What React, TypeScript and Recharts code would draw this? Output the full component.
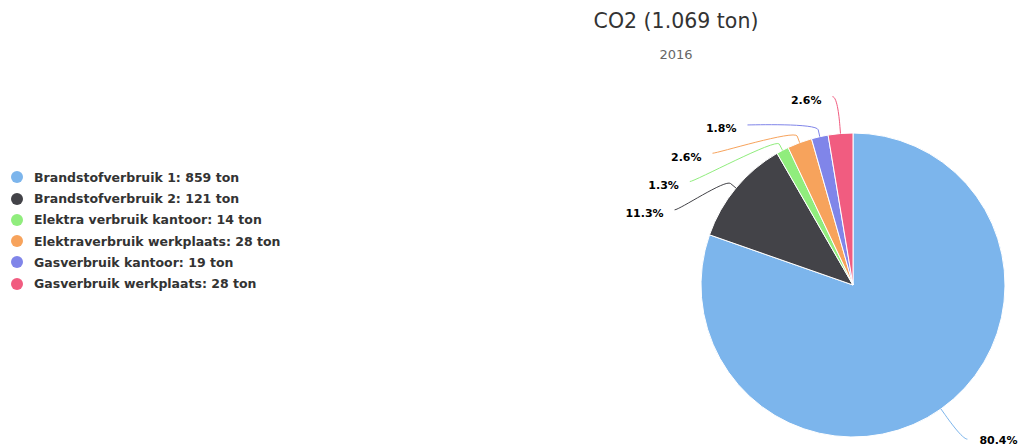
import React from 'react';
import { PieChart, Pie, Cell, Legend } from 'recharts';

const categories = [
  'Brandstofverbruik 1',
  'Brandstofverbruik 2',
  'Elektra verbruik kantoor',
  'Elektraverbruik werkplaats',
  'Gasverbruik kantoor',
  'Gasverbruik werkplaats',
];
const values = [859, 121, 14, 28, 19, 28];
const colors = ['#7cb5ec', '#434348', '#90ed7d', '#f7a35c', '#8085e9', '#f15c80'];
const unit = 'ton';
const titleText = 'CO2 (1.069 ton)';
const subtitleText = '2016';

const data = categories.map((name, i) => ({ name, value: values[i] }));

const W = 1019;
const H = 448;
const CX = 853;
const CY = 285;
const R = 152;
const START = 90;
const END = -270;
const LABEL_R = 189;
const PAD = 5;
const CONN_OFF = 7;
const MIN_GAP = 28.3;

type LabelPos = { x: number; y: number; left: boolean };

function layoutLabels(cx: number, cy: number): LabelPos[] {
  const total = values.reduce((a, b) => a + b, 0);
  let acc = 0;
  const items = values.map((v, i) => {
    const s = START + ((END - START) * acc) / total;
    acc += v;
    const e = START + ((END - START) * acc) / total;
    const mid = ((s + e) / 2) * (Math.PI / 180);
    const left = Math.cos(mid) < 0;
    const natY = cy - Math.sin(mid) * LABEL_R;
    return { i, left, natY, y: natY };
  });
  [true, false].forEach((side) => {
    const list = items.filter((it) => it.left === side).sort((a, b) => a.natY - b.natY);
    let prev = -Infinity;
    list.forEach((it) => {
      it.y = Math.max(it.natY, prev + MIN_GAP);
      prev = it.y;
    });
  });
  const out: LabelPos[] = [];
  items.forEach((it) => {
    const dy = it.y - cy;
    const dx = Math.sqrt(Math.max(0, LABEL_R * LABEL_R - dy * dy)) + PAD;
    out[it.i] = { x: it.left ? cx - dx : cx + dx, y: it.y, left: it.left };
  });
  return out;
}

const renderLabel = (props: any) => {
  const { cx, cy, midAngle, outerRadius, percent, index } = props;
  const lay = layoutLabels(cx, cy)[index];
  const rad = (-midAngle * Math.PI) / 180;
  const tx = cx + outerRadius * Math.cos(rad);
  const ty = cy + outerRadius * Math.sin(rad);
  const bx = cx + (outerRadius + CONN_OFF) * Math.cos(rad);
  const by = cy + (outerRadius + CONN_OFF) * Math.sin(rad);
  const c1x = lay.x + (lay.left ? 5 : -5);
  const d = `M ${lay.x} ${lay.y} C ${c1x} ${lay.y} ${2 * bx - tx} ${2 * by - ty} ${bx} ${by} L ${tx} ${ty}`;
  const textX = lay.left ? lay.x - 11 : lay.x + 12;
  const textY = Math.min(lay.y + 4, H - 8);
  return (
    <g>
      <path d={d} fill="none" stroke={colors[index]} strokeWidth={1} />
      <text
        x={textX}
        y={textY}
        textAnchor={lay.left ? 'end' : 'start'}
        dominantBaseline="central"
        fontFamily="DejaVu Sans"
        fontWeight="bold"
        fontSize={11}
        fill="#000000"
        stroke="#ffffff"
        strokeWidth={2}
        paintOrder="stroke"
        strokeLinejoin="round"
      >
        {`${(percent * 100).toFixed(1)}%`}
      </text>
    </g>
  );
};

const renderLegend = (props: any) => {
  const payload = props.payload || [];
  return (
    <div
      style={{
        fontFamily: 'DejaVu Sans',
        fontWeight: 'bold',
        fontSize: 12.5,
        color: '#333333',
      }}
    >
      {payload.map((entry: any, k: number) => {
        const idx = categories.indexOf(entry.value);
        const i = idx >= 0 ? idx : k;
        return (
          <div
            key={categories[i]}
            style={{ height: 21.3, display: 'flex', alignItems: 'center', position: 'relative' }}
          >
            <span
              style={{
                position: 'absolute',
                left: 10.7,
                width: 12,
                height: 12,
                borderRadius: 6,
                background: colors[i],
              }}
            />
            <span style={{ position: 'absolute', left: 34, whiteSpace: 'nowrap' }}>
              {`${categories[i]}: ${values[i]} ${unit}`}
            </span>
          </div>
        );
      })}
    </div>
  );
};

export default function App() {
  return (
    <div style={{ position: 'absolute', left: 0, top: 0, width: W, height: H, background: '#ffffff' }}>
      <div
        style={{
          position: 'absolute',
          left: 476,
          width: 400,
          top: 10,
          lineHeight: '22px',
          textAlign: 'center',
          fontFamily: 'DejaVu Sans',
          fontSize: 20.5,
          color: '#333333',
          zIndex: 2,
        }}
      >
        {titleText}
      </div>
      <div
        style={{
          position: 'absolute',
          left: 476,
          width: 400,
          top: 47,
          lineHeight: '16px',
          textAlign: 'center',
          fontFamily: 'DejaVu Sans',
          fontSize: 13,
          color: '#666666',
          zIndex: 2,
        }}
      >
        {subtitleText}
      </div>
      <PieChart width={W} height={H} margin={{ top: 0, right: 0, bottom: 0, left: 0 }}>
        <Pie
          data={data}
          dataKey="value"
          nameKey="name"
          cx={CX}
          cy={CY}
          outerRadius={R}
          startAngle={START}
          endAngle={END}
          stroke="#ffffff"
          strokeWidth={1}
          label={renderLabel}
          labelLine={false}
          isAnimationActive={false}
        >
          {data.map((d, i) => (
            <Cell key={d.name} fill={colors[i]} />
          ))}
        </Pie>
        <Legend
          layout="vertical"
          align="center"
          verticalAlign="middle"
          content={renderLegend}
          wrapperStyle={{ left: 0, top: 166.6, width: 320 }}
        />
      </PieChart>
    </div>
  );
}
